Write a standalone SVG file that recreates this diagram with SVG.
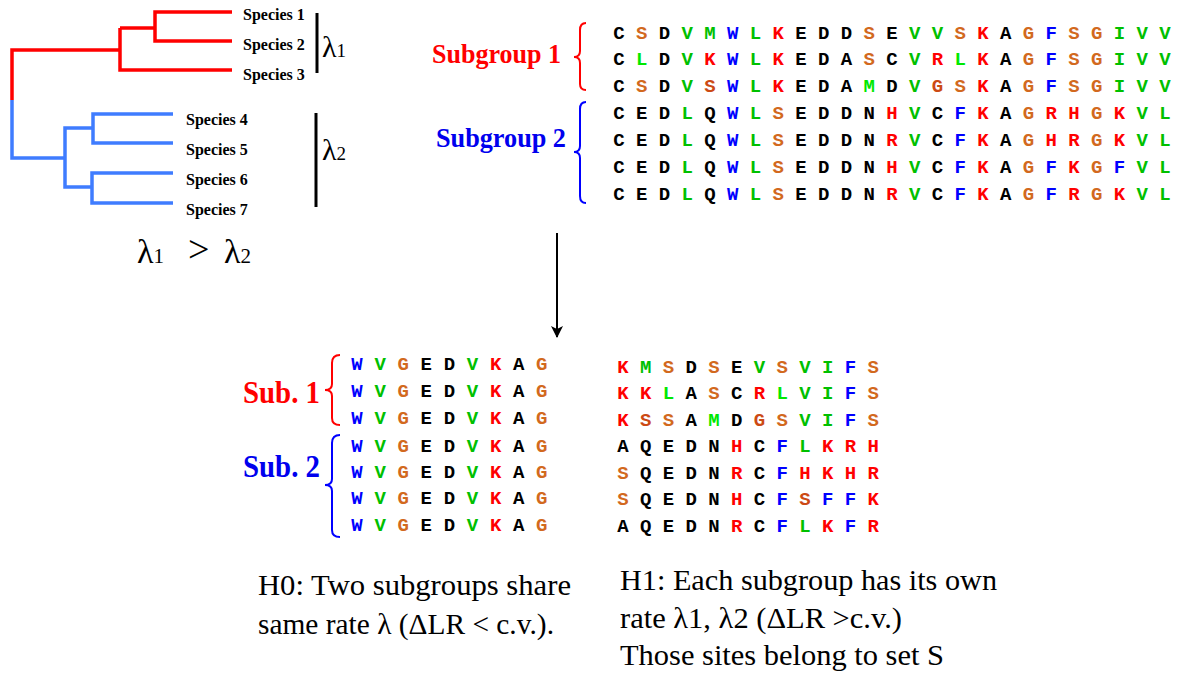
<svg xmlns="http://www.w3.org/2000/svg" width="1181" height="673" viewBox="0 0 1181 673">
<style>
.seq{font-family:"Liberation Mono","DejaVu Sans Mono",monospace;font-size:19px;font-weight:bold;text-anchor:middle}
.k{fill:#000}.o{fill:#d2691e}.g{fill:#00c000}.lg{fill:#00e800}.b{fill:#0000ff}.r{fill:#ff0000}.ro{fill:#cc4a14}
.sp{font-family:"Liberation Serif","Times New Roman",serif;font-size:16px;font-weight:bold;fill:#000}
.lam{font-family:"Liberation Serif","Times New Roman",serif;fill:#000}
.lab{font-family:"Liberation Serif","Times New Roman",serif;font-weight:bold}
.hyp{font-family:"Liberation Serif","Times New Roman",serif;font-size:30px;fill:#000}
.rt{fill:none;stroke:#ff0000;stroke-width:3.5;stroke-linejoin:miter}
.bt{fill:none;stroke:#3f7cff;stroke-width:3.5;stroke-linejoin:miter}
.br{fill:none;stroke-width:2}
</style>
<defs>
<marker id="ah" viewBox="0 0 12 12" refX="11" refY="6" markerWidth="12" markerHeight="12" markerUnits="userSpaceOnUse" orient="auto">
<path d="M0,0 L12,6 L0,12 L3,6 z" fill="#000"/>
</marker>
</defs>
<rect width="1181" height="673" fill="#fff"/>

<g id="tree">
<path class="rt" d="M12,100 V50 H120"/>
<path class="rt" d="M120,28 V70 H232"/>
<path class="rt" d="M120,28 H155"/>
<path class="rt" d="M232,12 H155 V41 H232"/>
<path class="bt" d="M12,100 V158 H65"/>
<path class="bt" d="M93,128 H65 V187 H92"/>
<path class="bt" d="M173,114 H93 V143 H173"/>
<path class="bt" d="M173,173 H92 V203 H173"/>
<text class="sp" x="243" y="20">Species 1</text>
<text class="sp" x="243" y="50">Species 2</text>
<text class="sp" x="243" y="80">Species 3</text>
<text class="sp" x="186" y="125">Species 4</text>
<text class="sp" x="186" y="155">Species 5</text>
<text class="sp" x="186" y="185">Species 6</text>
<text class="sp" x="186" y="215">Species 7</text>
<line x1="317" y1="13" x2="317" y2="73" stroke="#000" stroke-width="3"/>
<line x1="316" y1="113" x2="316" y2="207" stroke="#000" stroke-width="3"/>
<text class="lam" x="322" y="57" font-size="30">λ<tspan font-size="19">1</tspan></text>
<text class="lam" x="322" y="160" font-size="30">λ<tspan font-size="19">2</tspan></text>
<text class="lam" x="137" y="263" font-size="34">λ<tspan font-size="21">1</tspan></text>
<text class="lam" x="188" y="262" font-size="38">&gt;</text>
<text class="lam" x="224" y="263" font-size="34">λ<tspan font-size="21">2</tspan></text>
</g>

<g id="subgroup-labels">
<text class="lab" x="432" y="63" font-size="28" fill="#ff0000" textLength="129" lengthAdjust="spacingAndGlyphs">Subgroup 1</text>
<text class="lab" x="436" y="147" font-size="28" fill="#0000ee" textLength="130" lengthAdjust="spacingAndGlyphs">Subgroup 2</text>
<path class="br" stroke="#ff0000" d="M586,23 Q580,23 580,30 L580,51 Q580,57 574,57 Q580,57 580,63 L580,84 Q580,90 586,90"/>
<path class="br" stroke="#0000ff" d="M586,102 Q580,102 580,109 L580,146 Q580,152 574,152 Q580,152 580,158 L580,196 Q580,203 586,203"/>
<text class="lab" x="243" y="403" font-size="31" fill="#ff0000" textLength="77" lengthAdjust="spacingAndGlyphs">Sub. 1</text>
<text class="lab" x="243" y="477" font-size="31" fill="#0000ee" textLength="77" lengthAdjust="spacingAndGlyphs">Sub. 2</text>
<path class="br" stroke="#ff0000" d="M340,355 Q332,355 332,363 L332,384 Q332,390 325,390 Q332,390 332,396 L332,418 Q332,425 340,425"/>
<path class="br" stroke="#0000ff" d="M340,435 Q332,435 332,443 L332,479 Q332,485 325,485 Q332,485 332,491 L332,530 Q332,537 340,537"/>
</g>

<g id="full-alignment" class="seq">
<text x="619 641.75 664.5 687.25 710 732.75 755.5 778.25 801 823.75 846.5 869.25 892 914.75 937.5 960.25 983 1005.75 1028.5 1051.25 1074 1096.75 1119.5 1142.25 1165" y="39"><tspan class="k">C</tspan><tspan class="o">S</tspan><tspan class="k">D</tspan><tspan class="g">VM</tspan><tspan class="b">W</tspan><tspan class="g">L</tspan><tspan class="r">K</tspan><tspan class="k">EDD</tspan><tspan class="o">S</tspan><tspan class="k">E</tspan><tspan class="g">VV</tspan><tspan class="o">S</tspan><tspan class="r">K</tspan><tspan class="k">A</tspan><tspan class="o">G</tspan><tspan class="b">F</tspan><tspan class="o">SG</tspan><tspan class="g">IVV</tspan></text>
<text x="619 641.75 664.5 687.25 710 732.75 755.5 778.25 801 823.75 846.5 869.25 892 914.75 937.5 960.25 983 1005.75 1028.5 1051.25 1074 1096.75 1119.5 1142.25 1165" y="65"><tspan class="k">C</tspan><tspan class="lg">L</tspan><tspan class="k">D</tspan><tspan class="g">V</tspan><tspan class="r">K</tspan><tspan class="b">W</tspan><tspan class="g">L</tspan><tspan class="r">K</tspan><tspan class="k">EDA</tspan><tspan class="o">S</tspan><tspan class="k">C</tspan><tspan class="g">V</tspan><tspan class="r">R</tspan><tspan class="lg">L</tspan><tspan class="r">K</tspan><tspan class="k">A</tspan><tspan class="o">G</tspan><tspan class="b">F</tspan><tspan class="o">SG</tspan><tspan class="g">IVV</tspan></text>
<text x="619 641.75 664.5 687.25 710 732.75 755.5 778.25 801 823.75 846.5 869.25 892 914.75 937.5 960.25 983 1005.75 1028.5 1051.25 1074 1096.75 1119.5 1142.25 1165" y="92"><tspan class="k">C</tspan><tspan class="o">S</tspan><tspan class="k">D</tspan><tspan class="g">V</tspan><tspan class="ro">S</tspan><tspan class="b">W</tspan><tspan class="g">L</tspan><tspan class="r">K</tspan><tspan class="k">EDA</tspan><tspan class="lg">M</tspan><tspan class="k">D</tspan><tspan class="g">V</tspan><tspan class="ro">G</tspan><tspan class="o">S</tspan><tspan class="r">K</tspan><tspan class="k">A</tspan><tspan class="o">G</tspan><tspan class="b">F</tspan><tspan class="o">SG</tspan><tspan class="g">IVV</tspan></text>
<text x="619 641.75 664.5 687.25 710 732.75 755.5 778.25 801 823.75 846.5 869.25 892 914.75 937.5 960.25 983 1005.75 1028.5 1051.25 1074 1096.75 1119.5 1142.25 1165" y="119"><tspan class="k">CED</tspan><tspan class="g">L</tspan><tspan class="k">Q</tspan><tspan class="b">W</tspan><tspan class="g">L</tspan><tspan class="o">S</tspan><tspan class="k">EDDN</tspan><tspan class="r">H</tspan><tspan class="g">V</tspan><tspan class="k">C</tspan><tspan class="b">F</tspan><tspan class="r">K</tspan><tspan class="k">A</tspan><tspan class="o">G</tspan><tspan class="r">RH</tspan><tspan class="o">G</tspan><tspan class="r">K</tspan><tspan class="g">VL</tspan></text>
<text x="619 641.75 664.5 687.25 710 732.75 755.5 778.25 801 823.75 846.5 869.25 892 914.75 937.5 960.25 983 1005.75 1028.5 1051.25 1074 1096.75 1119.5 1142.25 1165" y="146"><tspan class="k">CED</tspan><tspan class="g">L</tspan><tspan class="k">Q</tspan><tspan class="b">W</tspan><tspan class="g">L</tspan><tspan class="o">S</tspan><tspan class="k">EDDN</tspan><tspan class="r">R</tspan><tspan class="g">V</tspan><tspan class="k">C</tspan><tspan class="b">F</tspan><tspan class="r">K</tspan><tspan class="k">A</tspan><tspan class="o">G</tspan><tspan class="r">HR</tspan><tspan class="o">G</tspan><tspan class="r">K</tspan><tspan class="g">VL</tspan></text>
<text x="619 641.75 664.5 687.25 710 732.75 755.5 778.25 801 823.75 846.5 869.25 892 914.75 937.5 960.25 983 1005.75 1028.5 1051.25 1074 1096.75 1119.5 1142.25 1165" y="173"><tspan class="k">CED</tspan><tspan class="g">L</tspan><tspan class="k">Q</tspan><tspan class="b">W</tspan><tspan class="g">L</tspan><tspan class="o">S</tspan><tspan class="k">EDDN</tspan><tspan class="r">H</tspan><tspan class="g">V</tspan><tspan class="k">C</tspan><tspan class="b">F</tspan><tspan class="r">K</tspan><tspan class="k">A</tspan><tspan class="o">G</tspan><tspan class="b">F</tspan><tspan class="r">K</tspan><tspan class="o">G</tspan><tspan class="b">F</tspan><tspan class="g">VL</tspan></text>
<text x="619 641.75 664.5 687.25 710 732.75 755.5 778.25 801 823.75 846.5 869.25 892 914.75 937.5 960.25 983 1005.75 1028.5 1051.25 1074 1096.75 1119.5 1142.25 1165" y="200"><tspan class="k">CED</tspan><tspan class="g">L</tspan><tspan class="k">Q</tspan><tspan class="b">W</tspan><tspan class="g">L</tspan><tspan class="o">S</tspan><tspan class="k">EDDN</tspan><tspan class="r">R</tspan><tspan class="g">V</tspan><tspan class="k">C</tspan><tspan class="b">F</tspan><tspan class="r">K</tspan><tspan class="k">A</tspan><tspan class="o">G</tspan><tspan class="b">F</tspan><tspan class="r">R</tspan><tspan class="o">G</tspan><tspan class="r">K</tspan><tspan class="g">VL</tspan></text>
</g>

<g id="conserved-sites" class="seq">
<text x="357 380.1 403.2 426.3 449.4 472.5 495.6 518.7 541.8" y="370"><tspan class="b">W</tspan><tspan class="g">V</tspan><tspan class="o">G</tspan><tspan class="k">ED</tspan><tspan class="g">V</tspan><tspan class="r">K</tspan><tspan class="k">A</tspan><tspan class="o">G</tspan></text>
<text x="357 380.1 403.2 426.3 449.4 472.5 495.6 518.7 541.8" y="397"><tspan class="b">W</tspan><tspan class="g">V</tspan><tspan class="o">G</tspan><tspan class="k">ED</tspan><tspan class="g">V</tspan><tspan class="r">K</tspan><tspan class="k">A</tspan><tspan class="o">G</tspan></text>
<text x="357 380.1 403.2 426.3 449.4 472.5 495.6 518.7 541.8" y="424"><tspan class="b">W</tspan><tspan class="g">V</tspan><tspan class="o">G</tspan><tspan class="k">ED</tspan><tspan class="g">V</tspan><tspan class="r">K</tspan><tspan class="k">A</tspan><tspan class="o">G</tspan></text>
<text x="357 380.1 403.2 426.3 449.4 472.5 495.6 518.7 541.8" y="452"><tspan class="b">W</tspan><tspan class="g">V</tspan><tspan class="o">G</tspan><tspan class="k">ED</tspan><tspan class="g">V</tspan><tspan class="r">K</tspan><tspan class="k">A</tspan><tspan class="o">G</tspan></text>
<text x="357 380.1 403.2 426.3 449.4 472.5 495.6 518.7 541.8" y="478"><tspan class="b">W</tspan><tspan class="g">V</tspan><tspan class="o">G</tspan><tspan class="k">ED</tspan><tspan class="g">V</tspan><tspan class="r">K</tspan><tspan class="k">A</tspan><tspan class="o">G</tspan></text>
<text x="357 380.1 403.2 426.3 449.4 472.5 495.6 518.7 541.8" y="504"><tspan class="b">W</tspan><tspan class="g">V</tspan><tspan class="o">G</tspan><tspan class="k">ED</tspan><tspan class="g">V</tspan><tspan class="r">K</tspan><tspan class="k">A</tspan><tspan class="o">G</tspan></text>
<text x="357 380.1 403.2 426.3 449.4 472.5 495.6 518.7 541.8" y="531"><tspan class="b">W</tspan><tspan class="g">V</tspan><tspan class="o">G</tspan><tspan class="k">ED</tspan><tspan class="g">V</tspan><tspan class="r">K</tspan><tspan class="k">A</tspan><tspan class="o">G</tspan></text>
</g>

<g id="variable-sites" class="seq">
<text x="623 645.75 668.5 691.25 714 736.75 759.5 782.25 805 827.75 850.5 873.25" y="373"><tspan class="r">K</tspan><tspan class="g">M</tspan><tspan class="o">S</tspan><tspan class="k">D</tspan><tspan class="o">S</tspan><tspan class="k">E</tspan><tspan class="g">V</tspan><tspan class="o">S</tspan><tspan class="g">VI</tspan><tspan class="b">F</tspan><tspan class="o">S</tspan></text>
<text x="623 645.75 668.5 691.25 714 736.75 759.5 782.25 805 827.75 850.5 873.25" y="399"><tspan class="r">KK</tspan><tspan class="lg">L</tspan><tspan class="k">A</tspan><tspan class="o">S</tspan><tspan class="k">C</tspan><tspan class="r">R</tspan><tspan class="lg">L</tspan><tspan class="g">VI</tspan><tspan class="b">F</tspan><tspan class="o">S</tspan></text>
<text x="623 645.75 668.5 691.25 714 736.75 759.5 782.25 805 827.75 850.5 873.25" y="426"><tspan class="r">K</tspan><tspan class="ro">S</tspan><tspan class="o">S</tspan><tspan class="k">A</tspan><tspan class="lg">M</tspan><tspan class="k">D</tspan><tspan class="ro">G</tspan><tspan class="o">S</tspan><tspan class="g">VI</tspan><tspan class="b">F</tspan><tspan class="o">S</tspan></text>
<text x="623 645.75 668.5 691.25 714 736.75 759.5 782.25 805 827.75 850.5 873.25" y="452"><tspan class="k">AQEDN</tspan><tspan class="r">H</tspan><tspan class="k">C</tspan><tspan class="b">F</tspan><tspan class="g">L</tspan><tspan class="r">KRH</tspan></text>
<text x="623 645.75 668.5 691.25 714 736.75 759.5 782.25 805 827.75 850.5 873.25" y="479"><tspan class="o">S</tspan><tspan class="k">QEDN</tspan><tspan class="r">R</tspan><tspan class="k">C</tspan><tspan class="b">F</tspan><tspan class="r">HKHR</tspan></text>
<text x="623 645.75 668.5 691.25 714 736.75 759.5 782.25 805 827.75 850.5 873.25" y="505"><tspan class="o">S</tspan><tspan class="k">QEDN</tspan><tspan class="r">H</tspan><tspan class="k">C</tspan><tspan class="b">F</tspan><tspan class="ro">S</tspan><tspan class="b">FF</tspan><tspan class="r">K</tspan></text>
<text x="623 645.75 668.5 691.25 714 736.75 759.5 782.25 805 827.75 850.5 873.25" y="532"><tspan class="k">AQEDN</tspan><tspan class="r">R</tspan><tspan class="k">C</tspan><tspan class="b">F</tspan><tspan class="g">L</tspan><tspan class="r">K</tspan><tspan class="b">F</tspan><tspan class="r">R</tspan></text>
</g>

<g id="connectors">
<line x1="557" y1="233" x2="557" y2="337" stroke="#000" stroke-width="2" marker-end="url(#ah)"/>
</g>

<g id="hypothesis-h0">
<text class="hyp" x="258" y="595" textLength="313" lengthAdjust="spacingAndGlyphs">H0: Two subgroups share</text>
<text class="hyp" x="258" y="634" textLength="296" lengthAdjust="spacingAndGlyphs">same rate λ (ΔLR &lt; c.v.).</text>
</g>
<g id="hypothesis-h1">
<text class="hyp" x="620" y="590" textLength="377" lengthAdjust="spacingAndGlyphs">H1: Each subgroup has its own</text>
<text class="hyp" x="620" y="628" textLength="282" lengthAdjust="spacingAndGlyphs">rate λ1, λ2 (ΔLR &gt;c.v.)</text>
<text class="hyp" x="620" y="665" textLength="324" lengthAdjust="spacingAndGlyphs">Those sites belong to set S</text>
</g>
</svg>
